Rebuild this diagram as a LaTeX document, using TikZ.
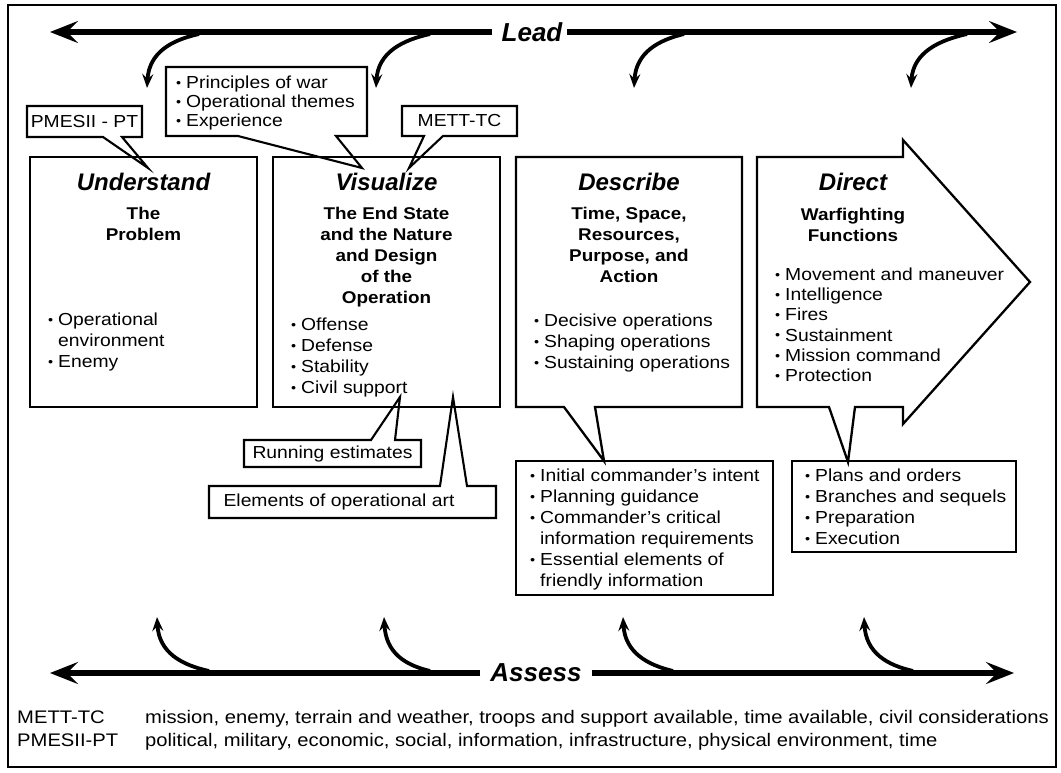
\documentclass[tikz,border=0pt]{standalone}
\usepackage{fontspec}
\setmainfont{Liberation Sans}[FakeStretch=1.11]
\newfontfamily\ttlfont{Liberation Sans}
\usetikzlibrary{arrows.meta}
\newcommand{\bi}[1]{\makebox[10pt][l]{\raisebox{1.2pt}{\fontsize{13}{13}\selectfont\textbullet}}#1}
\newcommand{\ci}[1]{\hspace*{10pt}#1}
\tikzset{
  box/.style={draw, line width=2.3pt},
  callout/.style={draw, line width=2.1pt, fill=white},
  bigarrow/.style={line width=6pt, -{Stealth[length=28pt,width=22pt,inset=11pt]}},
  curvearrow/.style={line width=3.8pt, -{Stealth[length=14pt,width=11pt,inset=5pt]}},
  ttl/.style={font=\ttlfont\bfseries\itshape\fontsize{24}{24}\selectfont, inner sep=0pt},
  big/.style={font=\ttlfont\bfseries\itshape\fontsize{26}{26}\selectfont, inner sep=0pt},
  head/.style={font=\bfseries\fontsize{17}{21}\selectfont, align=center, inner sep=0pt},
  txt/.style={font=\fontsize{17.4}{21}\selectfont, align=left, inner sep=0pt},
  leg/.style={font=\fontsize{18.2}{18}\selectfont, inner sep=0pt, anchor=base west}
}
\begin{document}
\begin{tikzpicture}[x=1pt,y=-1pt]
\useasboundingbox (0,0) rectangle (1061,772);
\draw[line width=2pt] (8,5) rectangle (1056,767);

% ---------- top callouts ----------
\draw[callout] (27,106) -- (142,106) -- (142,137) -- (122,137) -- (148,168) -- (103,137) -- (27,137) -- cycle;
\node[txt] (pm) at (84.5,121.5) {PMESII - PT};
\draw[callout] (166,67) -- (367,67) -- (367,136) -- (336,136) -- (362,168) -- (238,136) -- (166,136) -- cycle;
\node[txt, anchor=north west, font=\fontsize{17.4}{19}\selectfont] (pr) at (176,76) {\bi{Principles of war}\\\bi{Operational themes}\\\bi{Experience}};
\draw[callout] (402,106) -- (517,106) -- (517,136) -- (443,136) -- (409,168) -- (424,136) -- (402,136) -- cycle;
\node[txt] (mt) at (459.5,121) {METT-TC};

% ---------- bottom callouts ----------
\draw[callout] (244,440) -- (371,440) -- (400,397) -- (395,440) -- (421,440) -- (421,467) -- (244,467) -- cycle;
\node[txt] (re) at (332.5,454) {Running estimates};
\draw[callout] (209,486) -- (440,486) -- (453,397) -- (467,486) -- (496,486) -- (496,518) -- (209,518) -- cycle;
\node[txt] (eo) at (339,502) {Elements of operational art};
\draw[callout] (516,461) rectangle (773,595);
\draw[callout] (792,461) rectangle (1016,552);

% ---------- main boxes ----------
\draw[box] (30,157) rectangle (257,407);
\draw[box] (273,157) rectangle (500,407);
\draw[box] (516,157) -- (742,157) -- (742,407) -- (595,407) -- (604,461) -- (564,407) -- (516,407) -- cycle;
\draw[box] (757,157) -- (903,157) -- (903,140) -- (1030,282) -- (903,424) -- (903,407) -- (855,407) -- (848,462) -- (829,407) -- (757,407) -- cycle;

% Understand
\node[ttl] (und) at (143.5,182) {Understand};
\node[head, anchor=north] (undh) at (143.5,206.7) {The\\Problem};
\node[txt, anchor=north west] (undb) at (48,312.7) {\bi{Operational}\\\ci{environment}\\\bi{Enemy}};
% Visualize
\node[ttl] (vis) at (386.5,182) {Visualize};
\node[head, anchor=north] (vish) at (386.5,206.7) {The End State\\and the Nature\\and Design\\of the\\Operation};
\node[txt, anchor=north west] (visb) at (291,317.7) {\bi{Offense}\\\bi{Defense}\\\bi{Stability}\\\bi{Civil support}};
% Describe
\node[ttl] (des) at (629,182) {Describe};
\node[head, anchor=north] (desh) at (629,206.7) {Time, Space,\\Resources,\\Purpose, and\\Action};
\node[txt, anchor=north west] (desb) at (534,313.7) {\bi{Decisive operations}\\\bi{Shaping operations}\\\bi{Sustaining operations}};
% Direct
\node[ttl] (dir) at (853,182) {Direct};
\node[head, anchor=north] (dirh) at (853,207.7) {Warfighting\\Functions};
\node[txt, anchor=north west, font=\fontsize{17.4}{20.2}\selectfont] (dirb) at (775,267.7) {\bi{Movement and maneuver}\\\bi{Intelligence}\\\bi{Fires}\\\bi{Sustainment}\\\bi{Mission command}\\\bi{Protection}};

% lower callout texts
\node[txt, anchor=north west] (desc) at (530,468.7) {\bi{Initial commander's intent}\\\bi{Planning guidance}\\\bi{Commander's critical}\\\ci{information requirements}\\\bi{Essential elements of}\\\ci{friendly information}};
\node[txt, anchor=north west] (plc) at (805,468.7) {\bi{Plans and orders}\\\bi{Branches and sequels}\\\bi{Preparation}\\\bi{Execution}};

% ---------- Lead ----------
\node[big] (lead) at (532,32) {Lead};
\coordinate (leadL) at (50,32);
\coordinate (leadR) at (1017,32);
\draw[bigarrow] ([xshift=-9pt]lead.west) -- (leadL);
\draw[bigarrow] ([xshift=4pt]lead.east) -- (leadR);
\coordinate (l1s) at (199,34); \coordinate (l1e) at (147,88);
\coordinate (l2s) at (430,34); \coordinate (l2e) at (376,88);
\coordinate (l3s) at (684,34); \coordinate (l3e) at (634,88);
\coordinate (l4s) at (967,34); \coordinate (l4e) at (911,88);
\draw[curvearrow] (l1s) .. controls (172,40) and (149,52) .. (l1e);
\draw[curvearrow] (l2s) .. controls (403,40) and (378,52) .. (l2e);
\draw[curvearrow] (l3s) .. controls (659,40) and (636,52) .. (l3e);
\draw[curvearrow] (l4s) .. controls (940,40) and (913,52) .. (l4e);

% ---------- Assess ----------
\node[big] (assess) at (536,673) {Assess};
\coordinate (asL) at (50,673);
\coordinate (asR) at (1014,673);
\draw[bigarrow] ([xshift=-10pt]assess.west) -- (asL);
\draw[bigarrow] ([xshift=10pt]assess.east) -- (asR);
\coordinate (a1s) at (209,671); \coordinate (a1e) at (157,617);
\coordinate (a2s) at (430,671); \coordinate (a2e) at (384,617);
\coordinate (a3s) at (673,671); \coordinate (a3e) at (623,617);
\coordinate (a4s) at (913,671); \coordinate (a4e) at (864,617);
\draw[curvearrow] (a1s) .. controls (182,665) and (159,653) .. (a1e);
\draw[curvearrow] (a2s) .. controls (405,665) and (386,653) .. (a2e);
\draw[curvearrow] (a3s) .. controls (648,665) and (625,653) .. (a3e);
\draw[curvearrow] (a4s) .. controls (887,665) and (866,653) .. (a4e);

% ---------- legend ----------
\node[leg] (lg1) at (17,723.5) {METT-TC};
\node[leg] (lg1t) at (145,723.5) {mission, enemy, terrain and weather, troops and support available, time available, civil considerations};
\node[leg] (lg2) at (17,746.5) {PMESII-PT};
\node[leg] (lg2t) at (145,746.5) {political, military, economic, social, information, infrastructure, physical environment, time};
\end{tikzpicture}
\end{document}
